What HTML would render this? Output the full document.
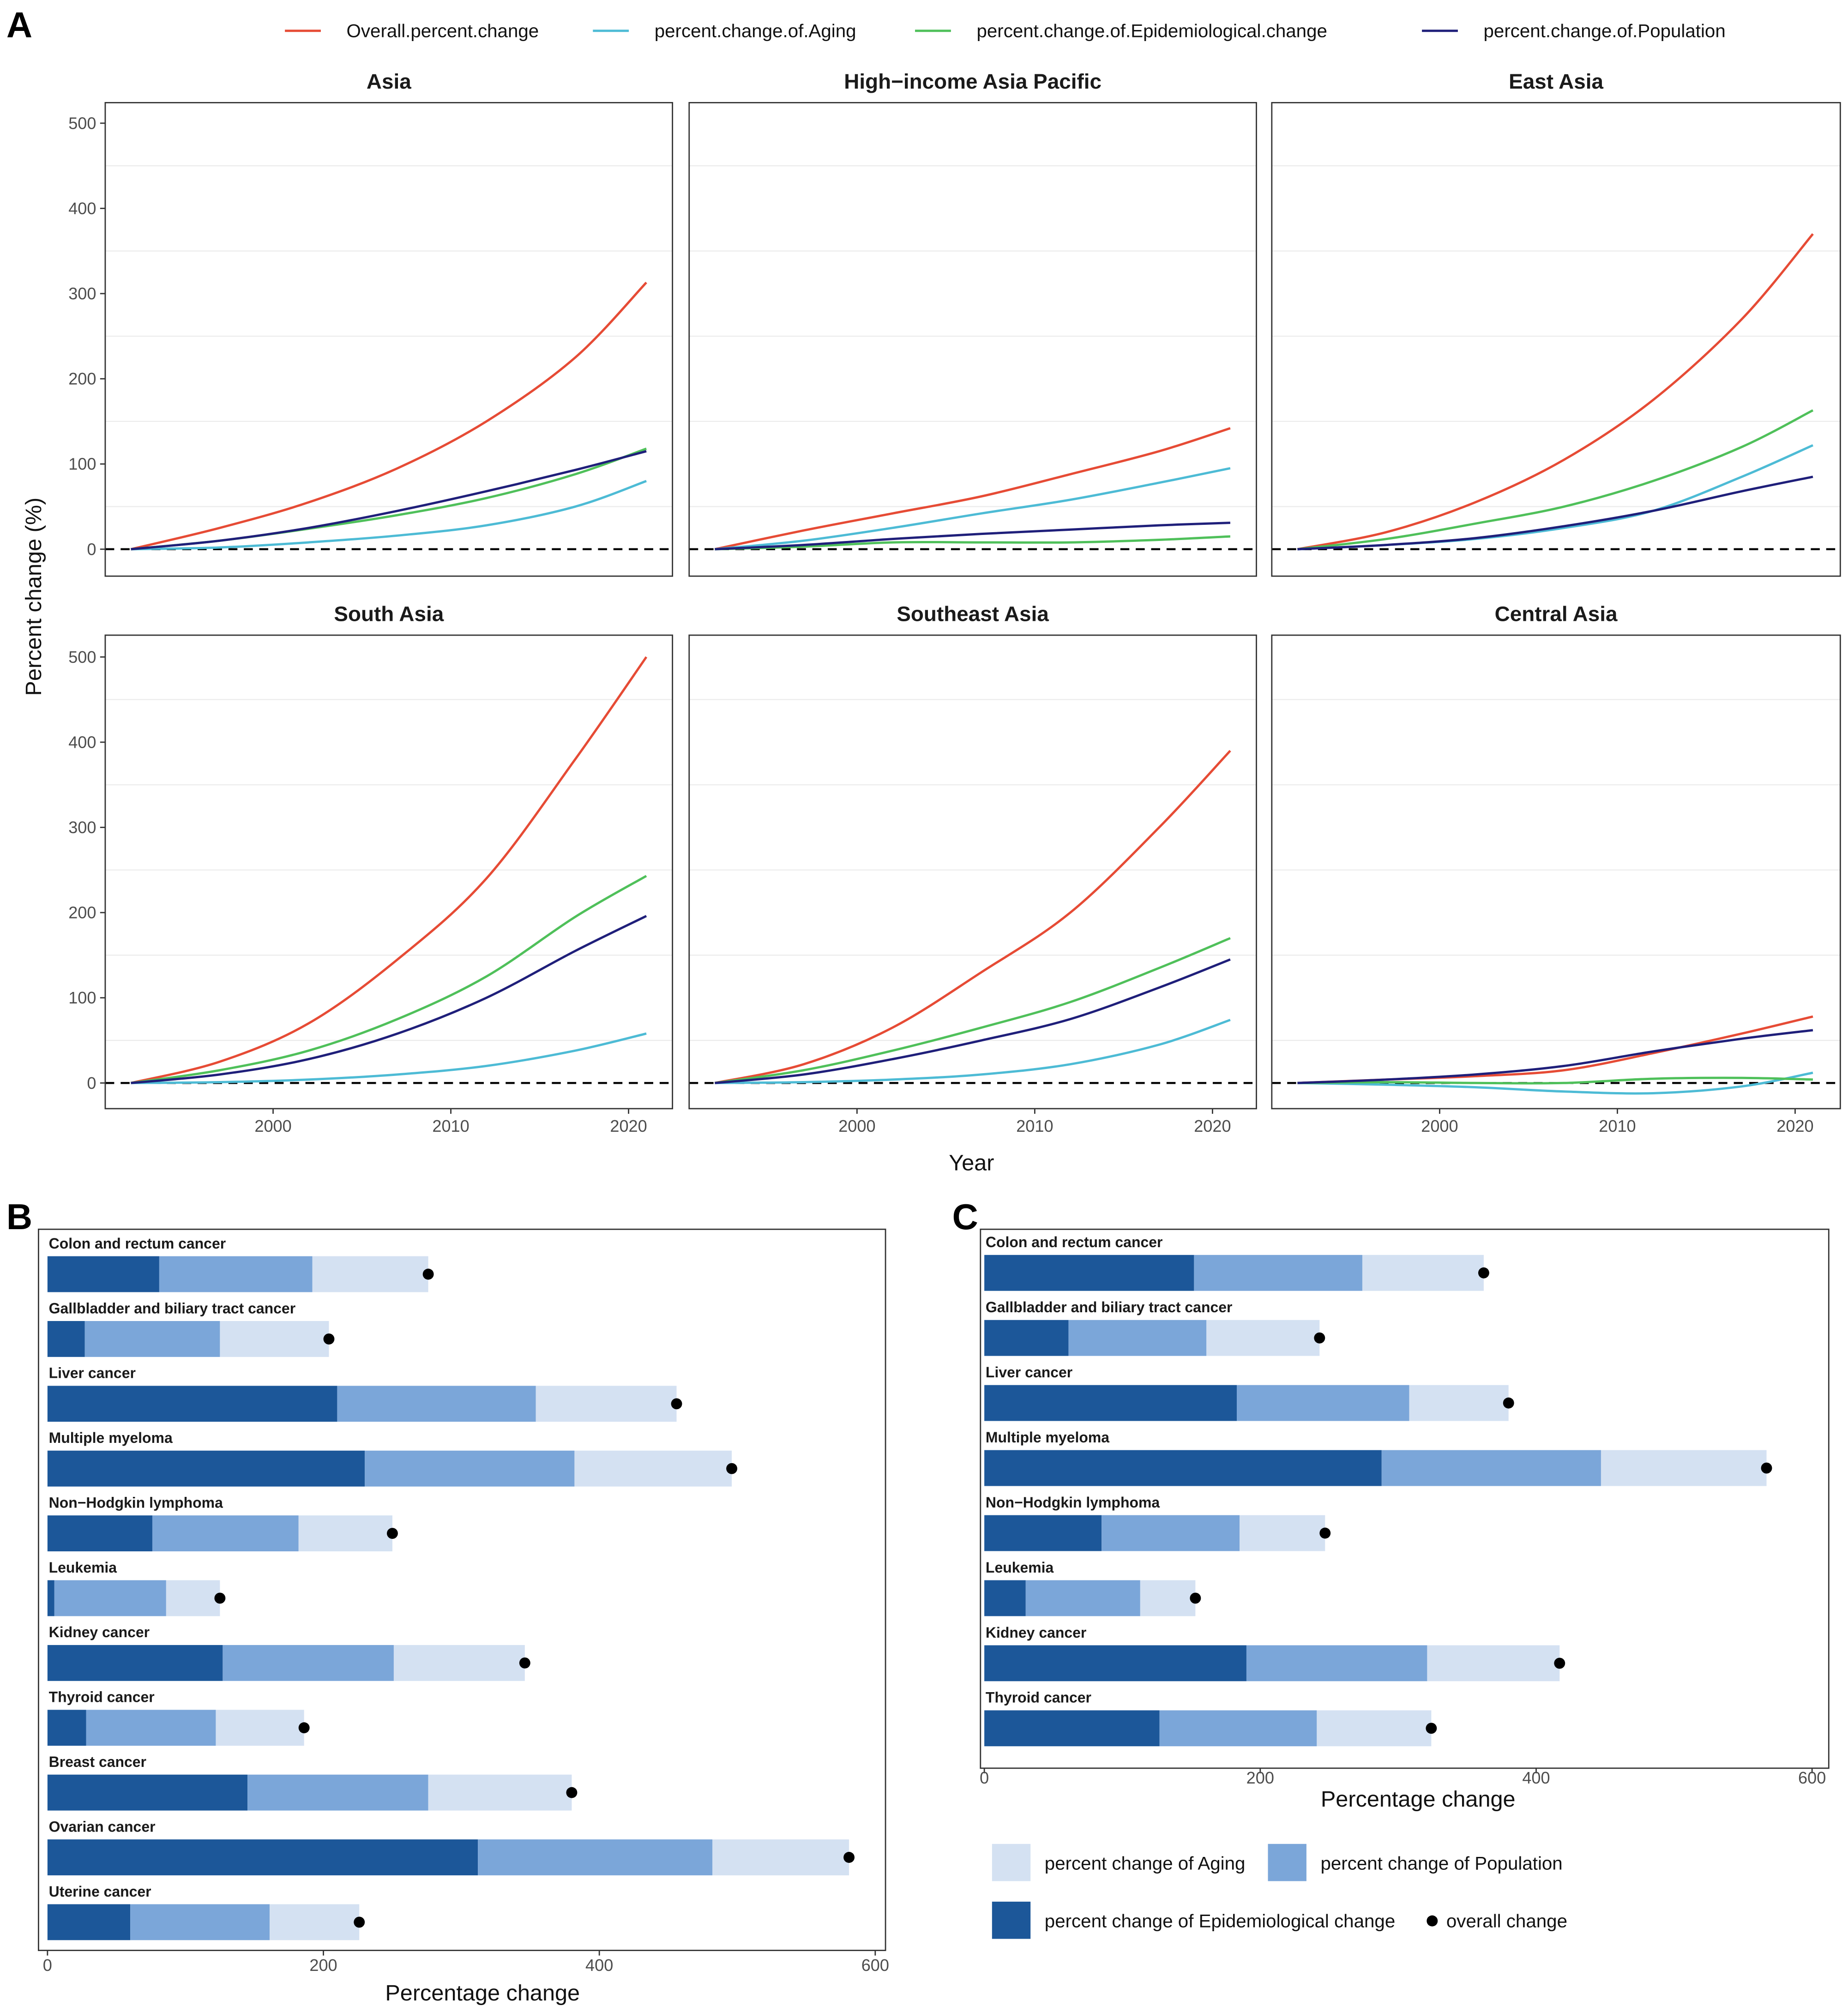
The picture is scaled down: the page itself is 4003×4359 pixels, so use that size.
<!DOCTYPE html>
<html><head><meta charset="utf-8"><style>
html,body{margin:0;padding:0;background:#fff}
svg{display:block}
text{font-family:"Liberation Sans",Arial,sans-serif}
</style></head><body>
<svg id="fig" xmlns="http://www.w3.org/2000/svg" width="4003" height="4359" viewBox="0 0 1440 1568" preserveAspectRatio="none">
<rect x="0" y="0" width="1440" height="1568" fill="#fff"/>
<text x="5" y="29" font-size="28" font-weight="bold">A</text>
<text x="5" y="958" font-size="28" font-weight="bold">B</text>
<text x="742" y="958" font-size="28" font-weight="bold">C</text>
<g id="gA"></g>
<g id="gB"></g>
<g id="gC"></g>
</svg>
<script>
// ---------- Panel A data ----------
const years = [1992, 1997, 2002, 2007, 2012, 2017, 2021];
const facetNames = ["Asia", "High\u2212income Asia Pacific", "East Asia", "South Asia", "Southeast Asia", "Central Asia"];
const seriesNames = ["Overall.percent.change", "percent.change.of.Aging", "percent.change.of.Epidemiological.change", "percent.change.of.Population"];
const overallA = [[0,25,55,95,150,225,313],[0,22,42,62,88,115,142],[0,20,55,105,175,270,370],[0,25,70,145,240,380,500],[0,22,65,130,200,300,390],[0,4,8,15,35,58,78]];
const agingA = [[0,2,8,16,28,50,80],[0,10,25,42,58,78,95],[0,5,12,25,45,85,122],[0,1,4,10,20,38,58],[0,1,4,10,22,45,74],[0,-2,-5,-10,-12,-4,12]];
const epiA = [[0,10,24,40,60,88,118],[0,3,8,8,8,11,15],[0,12,30,50,80,120,163],[0,15,38,75,125,195,243],[0,15,38,65,95,135,170],[0,1,0,0,5,6,4]];
const popA = [[0,10,25,45,68,93,115],[0,5,12,18,23,28,31],[0,5,13,27,45,68,85],[0,10,28,58,100,155,196],[0,10,28,50,75,112,145],[0,4,10,20,37,52,62]];
const yTicksA = [0,100,200,300,400,500];
const xTicksA = [2000,2010,2020];
// ---------- Panel B data ----------
const catsB = ["Colon and rectum cancer","Gallbladder and biliary tract cancer","Liver cancer","Multiple myeloma","Non\u2212Hodgkin lymphoma","Leukemia","Kidney cancer","Thyroid cancer","Breast cancer","Ovarian cancer","Uterine cancer"];
const epiB = [81,27,210,230,76,5,127,28,145,312,60];
const popB = [111,98,144,152,106,81,124,94,131,170,101];
const agingB = [84,79,102,114,68,39,95,64,104,99,65];
// ---------- Panel C data ----------
const catsC = ["Colon and rectum cancer","Gallbladder and biliary tract cancer","Liver cancer","Multiple myeloma","Non\u2212Hodgkin lymphoma","Leukemia","Kidney cancer","Thyroid cancer"];
const epiC = [152,61,183,288,85,30,190,127];
const popC = [122,100,125,159,100,83,131,114];
const agingC = [88,82,72,120,62,40,96,83];
const xTicksBC = [0,200,400,600];

const NS="http://www.w3.org/2000/svg";
function mk(parent, tag, attrs, txt){
  const e=document.createElementNS(NS,tag);
  for(const k in attrs) e.setAttribute(k,attrs[k]);
  if(txt!==undefined) e.textContent=txt;
  parent.appendChild(e); return e;
}
const colors=["#e64b35","#4dbbd5","#4fc05a","#1f1f7a"];
const gA=document.getElementById('gA');
const legX=[222,462,713,1108];
seriesNames.forEach((n,i)=>{
  const l=mk(gA,'line',{x1:legX[i],x2:legX[i]+28,y1:24,y2:24,stroke:colors[i],'stroke-width':1.8});
  
  
  const t=mk(gA,'text',{x:legX[i]+48,y:29,'font-size':14.5,fill:'#111'},n);
  
  
});
const panelX=[[82,524],[537,979],[991,1434]];
const panelY=[[80,449],[495,864]];
const zeroY=[428,844];
const yScale=0.664;
const allSeries=[overallA,agingA,epiA,popA];
function smoothPath(pts){
  let d='M'+pts[0][0].toFixed(2)+','+pts[0][1].toFixed(2);
  for(let i=0;i<pts.length-1;i++){
    const p0=pts[Math.max(0,i-1)],p1=pts[i],p2=pts[i+1],p3=pts[Math.min(pts.length-1,i+2)];
    const c1=[p1[0]+(p2[0]-p0[0])/6,p1[1]+(p2[1]-p0[1])/6];
    const c2=[p2[0]-(p3[0]-p1[0])/6,p2[1]-(p3[1]-p1[1])/6];
    d+=' C'+c1[0].toFixed(2)+','+c1[1].toFixed(2)+' '+c2[0].toFixed(2)+','+c2[1].toFixed(2)+' '+p2[0].toFixed(2)+','+p2[1].toFixed(2);
  }
  return d;
}
facetNames.forEach((fn,f)=>{
  const r=Math.floor(f/3), c=f%3;
  const [x0,x1]=panelX[c], [y0,y1]=panelY[r];
  const xs=yr=>x0+20+(yr-1992)*13.85;
  const ys=v=>zeroY[r]-v*yScale;
  const g=mk(gA,'g',{});
  
  
  [50,150,250,350,450].forEach(v=>mk(g,'line',{x1:x0,x2:x1,y1:ys(v),y2:ys(v),stroke:'#ebebeb','stroke-width':0.8}));
  mk(g,'line',{x1:x0,x2:x1,y1:ys(0),y2:ys(0),stroke:'#000','stroke-width':1.6,'stroke-dasharray':'7,5'});
  [0,1,2,3].forEach(s=>{
    const pts=years.map((yr,i)=>[xs(yr),ys(allSeries[s][f][i])]);
    const p=mk(g,'path',{d:smoothPath(pts),fill:'none',stroke:colors[s],'stroke-width':1.8});
    
    
  });
  mk(g,'rect',{x:x0,y:y0,width:x1-x0,height:y1-y0,fill:'none',stroke:'#333','stroke-width':1});
  const tt=mk(g,'text',{x:(x0+x1)/2,y:y0-11,'text-anchor':'middle','font-size':16.5,'font-weight':'bold',fill:'#1a1a1a'},fn);
  
  
  if(c===0){
    yTicksA.forEach(v=>{
      mk(g,'line',{x1:x0-4,x2:x0,y1:ys(v),y2:ys(v),stroke:'#333','stroke-width':1});
      mk(g,'text',{x:x0-7,y:ys(v)+4.5,'text-anchor':'end','font-size':13,fill:'#4d4d4d'},String(v));
    });
  }
  if(r===1){
    xTicksA.forEach(v=>{
      mk(g,'line',{x1:xs(v),x2:xs(v),y1:y1,y2:y1+4,stroke:'#333','stroke-width':1});
      mk(g,'text',{x:xs(v),y:y1+18,'text-anchor':'middle','font-size':13,fill:'#4d4d4d'},String(v));
    });
  }
});
let t=mk(gA,'text',{x:757,y:912,'text-anchor':'middle','font-size':17.5,fill:'#111'},'Year');


t=mk(gA,'text',{x:0,y:0,'text-anchor':'middle','font-size':17.5,fill:'#111',transform:'translate(32,465) rotate(-90)'},'Percent change (%)');



const cDark="#1c5799", cMid="#7ba6d9", cLight="#d4e1f2";
function barPanel(gid, cats, epi, pop, aging, frame, x0, rowTop, rowStep, barH, tickDy, titleX, titleY){
  const g=document.getElementById(gid);
  const sx=v=>x0+v*1.075;
  mk(g,'rect',{x:frame[0],y:frame[1],width:frame[2]-frame[0],height:frame[3]-frame[1],fill:'none',stroke:'#333','stroke-width':1});
  cats.forEach((cn,i)=>{
    const cy=rowTop+i*rowStep;
    const by=cy-barH/2;
    const rowG=mk(g,'g',{});
    
    
    const a=epi[i], b=a+pop[i], c=b+aging[i];
    let e=mk(rowG,'rect',{x:sx(0),y:by,width:sx(a)-sx(0),height:barH,fill:cDark});
    
    
    e=mk(rowG,'rect',{x:sx(a),y:by,width:sx(b)-sx(a),height:barH,fill:cMid});
    
    
    e=mk(rowG,'rect',{x:sx(b),y:by,width:sx(c)-sx(b),height:barH,fill:cLight});
    
    
    e=mk(rowG,'circle',{cx:sx(c),cy:cy,r:4.3,fill:'#000'});
    
    
    e=mk(rowG,'text',{x:sx(0)+1,y:by-6,'font-size':11.5,'font-weight':'bold',fill:'#1a1a1a'},cn);
    
    
  });
  xTicksBC.forEach(v=>{
    mk(g,'line',{x1:sx(v),x2:sx(v),y1:frame[3],y2:frame[3]+4,stroke:'#333','stroke-width':1});
    mk(g,'text',{x:sx(v),y:frame[3]+tickDy,'text-anchor':'middle','font-size':13,fill:'#4d4d4d'},String(v));
  });
  const tt=mk(g,'text',{x:titleX,y:titleY,'text-anchor':'middle','font-size':17.5,fill:'#111'},'Percentage change');
  
  
}
barPanel('gB',catsB,epiB,popB,agingB,[30,958,690,1520],37,993,50.5,28,16,376,1559);
barPanel('gC',catsC,epiC,popC,agingC,[764,958,1425,1378],767,992,50.7,28,12,1105,1408);

const gC=document.getElementById('gC');
const legItems=[[773,1437,cLight,'percent change of Aging'],[988,1437,cMid,'percent change of Population'],[773,1482,cDark,'percent change of Epidemiological change']];
legItems.forEach(it=>{
  let e=mk(gC,'rect',{x:it[0],y:it[1],width:30,height:29,fill:it[2]});
  
  
  e=mk(gC,'text',{x:it[0]+41,y:it[1]+20,'font-size':14.5,fill:'#111'},it[3]);
  
  
});
let d=mk(gC,'circle',{cx:1116,cy:1497,r:4.3,fill:'#000'});


d=mk(gC,'text',{x:1127,y:1502,'font-size':14.5,fill:'#111'},'overall change');


</script>
</body></html>
